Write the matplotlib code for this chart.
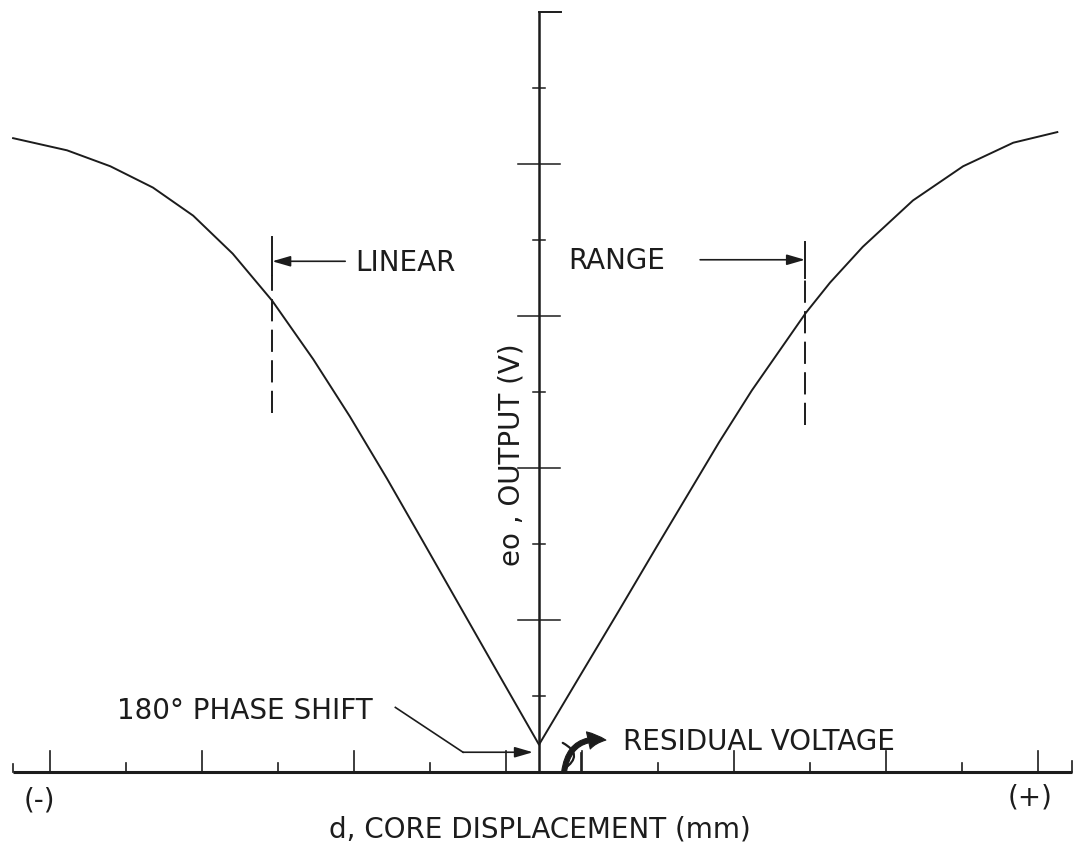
import numpy as np
import matplotlib.pyplot as plt

plt.rcParams['font.family'] = ['DejaVu Sans']
plt.rcParams['lines.scale_dashes'] = False

INK = '#1c1c1c'

# output curve e0 vs core displacement d (one tick step = 1 unit)
x_left = [-6.92, -6.21, -5.64, -5.08, -4.55, -4.03, -3.51, -2.97, -2.49,
          -2.00, -1.53, -1.08, -0.55, 0.0]
y_left = [8.34, 8.18, 7.97, 7.69, 7.32, 6.82, 6.20, 5.43, 4.68,
          3.86, 3.04, 2.25, 1.32, 0.36]
x_right = [0.0, 0.53, 1.05, 1.54, 1.97, 2.37, 2.80, 3.51, 3.83,
           4.26, 4.92, 5.58, 6.24, 6.82]
y_right = [0.36, 1.25, 2.12, 2.95, 3.67, 4.34, 5.02, 6.04, 6.44,
           6.91, 7.52, 7.97, 8.28, 8.42]

# axis ticks
y_major = [2, 4, 6, 8]
y_minor = [1, 3, 5, 7, 9]
y_top = 10
x_tall = [-6.43, -4.43, -2.43, -0.43, 0.57, 2.57, 4.57, 6.57]
x_short = [-5.43, -3.43, -1.43, 1.57, 3.57, 5.57]
x_min, x_max = -6.92, 7.01

# limits of the linear range
lin_left = -3.51
lin_right = 3.50

fig = plt.figure(figsize=(10.77, 8.52), dpi=100)
ax = fig.add_axes([0, 0, 1, 1])
ax.set_xlim(-539 / 76, (1077 - 539) / 76)
ax.set_ylim(-80 / 76, 772 / 76)
ax.axis('off')

# axes drawn by hand, drafting style
ax.plot([x_min, x_max], [0, 0], color=INK, lw=2.2, solid_capstyle='butt')
ax.plot([0, 0], [0, y_top], color=INK, lw=1.8, solid_capstyle='butt')
ax.plot([0, 0.29], [y_top, y_top], color=INK, lw=1.4)
for y in y_major:
    ax.plot([-0.28, 0.28], [y, y], color=INK, lw=1.1)
for y in y_minor:
    ax.plot([-0.08, 0.08], [y, y], color=INK, lw=1.1)
for x in x_tall:
    ax.plot([x, x], [0, 0.28], color=INK, lw=1.2)
for x in x_short:
    ax.plot([x, x], [0, 0.12], color=INK, lw=1.2)
ax.plot([x_min, x_min], [0, 0.1], color=INK, lw=1.2)
ax.plot([x_max, x_max], [0, 0.15], color=INK, lw=1.2)

# the characteristic
ax.plot(x_left + x_right[1:], y_left + y_right[1:], color=INK, lw=1.4,
        solid_joinstyle='round')

# linear range markers
ax.plot([lin_left, lin_left], [6.54, 7.04], color=INK, lw=1.4)
ax.plot([lin_left, lin_left], [4.72, 6.54], color=INK, lw=1.4,
        linestyle=(0, (16, 6)))
ax.plot([lin_right, lin_right], [6.50, 6.97], color=INK, lw=1.4)
ax.plot([lin_right, lin_right], [4.57, 6.50], color=INK, lw=1.4,
        linestyle=(0, (16, 6)))

arrow = dict(arrowstyle='-|>,head_length=0.55,head_width=0.16',
             mutation_scale=20, color=INK, lw=1.2, shrinkA=0, shrinkB=0)
ax.annotate('', xy=(lin_left, 6.72), xytext=(-2.55, 6.72), arrowprops=arrow)
ax.annotate('', xy=(lin_right, 6.74), xytext=(2.12, 6.74), arrowprops=arrow)

txt = dict(color=INK, fontsize=20)
ax.text(-2.42, 6.70, 'LINEAR', ha='left', va='center', **txt)
ax.text(0.38, 6.72, 'RANGE', ha='left', va='center', **txt)
ax.text(-0.36, 4.17, 'eo , OUTPUT (V)', rotation=90, ha='center',
        va='center', **txt)

# phase shift leader
ax.plot([-1.89, -1.0], [0.85, 0.26], color=INK, lw=1.2)
ax.annotate('', xy=(-0.08, 0.26), xytext=(-1.0, 0.26), arrowprops=arrow)
ax.text(-5.55, 0.80, '180° PHASE SHIFT', ha='left', va='center', **txt)

# residual voltage squiggle
ax.annotate('', xy=(0.28, 0.40), xytext=(0.30, 0.02),
            arrowprops=dict(arrowstyle='-', color=INK, lw=1.6,
                            connectionstyle='arc3,rad=0.9'))
ax.annotate('', xy=(0.88, 0.42), xytext=(0.33, 0.0),
            arrowprops=dict(arrowstyle='simple,head_length=0.9,head_width=0.9,tail_width=0.25',
                            mutation_scale=14, color=INK, lw=0.8,
                            shrinkA=0, shrinkB=0,
                            connectionstyle='arc3,rad=-0.5'))
ax.plot([0.55, 0.55], [0, 0.25], color=INK, lw=1.2)
ax.text(1.10, 0.40, 'RESIDUAL VOLTAGE', ha='left', va='center', **txt)

# bottom labels
ax.text(-6.57, -0.37, '(-)', ha='center', va='center', **txt)
ax.text(6.46, -0.33, '(+)', ha='center', va='center', **txt)
ax.text(0.01, -0.76, 'd, CORE DISPLACEMENT (mm)', ha='center', va='center',
        **txt)

fig.savefig('out.png', dpi=100, facecolor='white')
